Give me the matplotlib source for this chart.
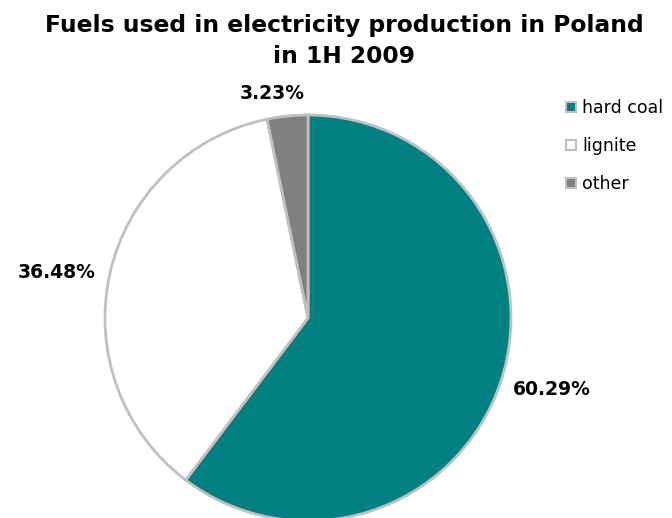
import numpy as np
import matplotlib
matplotlib.use("Agg")
import matplotlib.pyplot as plt
from matplotlib.lines import Line2D

# fuel shares, 1H 2009
fuels = ["hard coal", "lignite", "other"]
shares = [60.29, 36.48, 3.23]
colours = ["#008080", "#ffffff", "#808080"]
label_dist = [1.25, 1.256, 1.118]
label_turn = [2.1, 2.5, 3.3]  # degrees, nudges label off the wedge bisector

plt.rcParams['font.family'] = ['DejaVu Sans']

W, H = 672, 518
fig = plt.figure(figsize=(W / 100, H / 100), dpi=100)

# two title lines, baselines at y=32 and y=63 px
fig.text(344 / W, 1 - 32 / H, "Fuels used in electricity production in Poland",
         ha="center", va="baseline", fontsize=16.8, fontweight="bold")
fig.text(344 / W, 1 - 63 / H, "in 1H 2009",
         ha="center", va="baseline", fontsize=16.8, fontweight="bold")

# pie axes: centre ~ (308, 318) px, radius ~ 203 px
cx, cy, r = 308, 318, 203
ax = fig.add_axes([(cx - r) / W, (H - cy - r) / H, 2 * r / W, 2 * r / H])
wedges, _ = ax.pie(shares, colors=colours, startangle=90, counterclock=False,
                   wedgeprops=dict(edgecolor="#c0c0c0", linewidth=2))
for w in wedges:
    w.set_clip_on(False)
ax.set_xlim(-1, 1)
ax.set_ylim(-1, 1)
ax.set_aspect("equal")
ax.axis("off")

for w, val, d, t in zip(wedges, shares, label_dist, label_turn):
    ang = np.deg2rad((w.theta1 + w.theta2) / 2 + t)
    ax.text(d * np.cos(ang), d * np.sin(ang), "%.2f%%" % val, ha="center", va="center",
            fontsize=13.5, fontweight="bold", clip_on=False)

handles = [Line2D([], [], linestyle="none", marker="s", markersize=7,
                  markerfacecolor=c, markeredgecolor="#c0c0c0", markeredgewidth=1.5)
           for c in colours]
fig.legend(handles, fuels, loc="upper left", bbox_to_anchor=(0.839, 0.808),
           frameon=False, fontsize=12.5, handlelength=0.8, handletextpad=0.25,
           labelspacing=1.13, borderaxespad=0, borderpad=0)

fig.savefig("out.png", dpi=100)
